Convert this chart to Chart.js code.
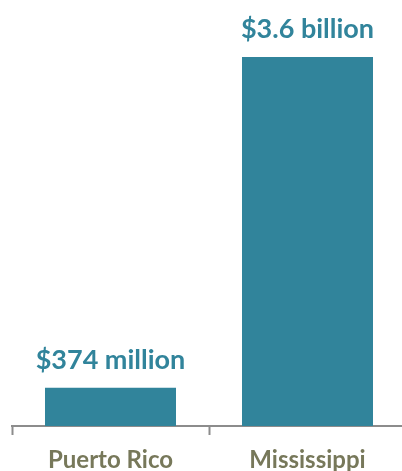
<!DOCTYPE html>
<html>
<head>
<meta charset="utf-8">
<script src="https://cdn.jsdelivr.net/npm/chart.js@4/dist/chart.umd.min.js"></script>
<style>
html,body{margin:0;padding:0;background:#fff;overflow:hidden;}
#wrap{position:relative;width:410px;height:471px;}
</style>
</head>
<body>
<div id="wrap"><canvas id="c"></canvas></div>
<script>
const categories = ["Puerto Rico", "Mississippi"];
const valuesMillions = [374, 3600];
const valueLabels = ["$374 million", "$3.6 billion"];

const BAR = "#31849B";
const FONT = "Lato, 'Open Sans', sans-serif";

const valueLabelPlugin = {
  id: 'valueLabels',
  afterDatasetsDraw(chart) {
    const ctx = chart.ctx;
    const meta = chart.getDatasetMeta(0);
    ctx.save();
    ctx.font = "bold 27px " + FONT;
    ctx.fillStyle = BAR;
    ctx.textAlign = "center";
    ctx.textBaseline = "alphabetic";
    meta.data.forEach((bar, i) => {
      ctx.fillText(valueLabels[i], bar.x, bar.y - 19);
    });
    ctx.restore();
  }
};

new Chart(document.getElementById('c'), {
  type: 'bar',
  data: {
    labels: categories,
    datasets: [{
      data: valuesMillions,
      backgroundColor: BAR,
      borderWidth: 0,
      barPercentage: 0.665,
      categoryPercentage: 1
    }]
  },
  options: {
    responsive: true,
    maintainAspectRatio: false,
    animation: false,
    layout: { padding: { left: 12, right: 4, top: 0, bottom: 0 } },
    plugins: { legend: { display: false }, tooltip: { enabled: false } },
    scales: {
      x: {
        grid: {
          offset: true,
          drawOnChartArea: false,
          drawTicks: true,
          tickLength: 9,
          tickWidth: 2,
          tickColor: "#8C8C8C"
        },
        border: { display: true, color: "#8C8C8C", width: 2 },
        ticks: {
          color: "#77785A",
          font: { family: FONT, size: 24, weight: 'bold' },
          padding: 11
        },
        afterFit: (s) => { s.height = 45; }
      },
      y: {
        display: false,
        min: 0,
        max: 4156
      }
    }
  },
  plugins: [valueLabelPlugin]
});
</script>
</body>
</html>
